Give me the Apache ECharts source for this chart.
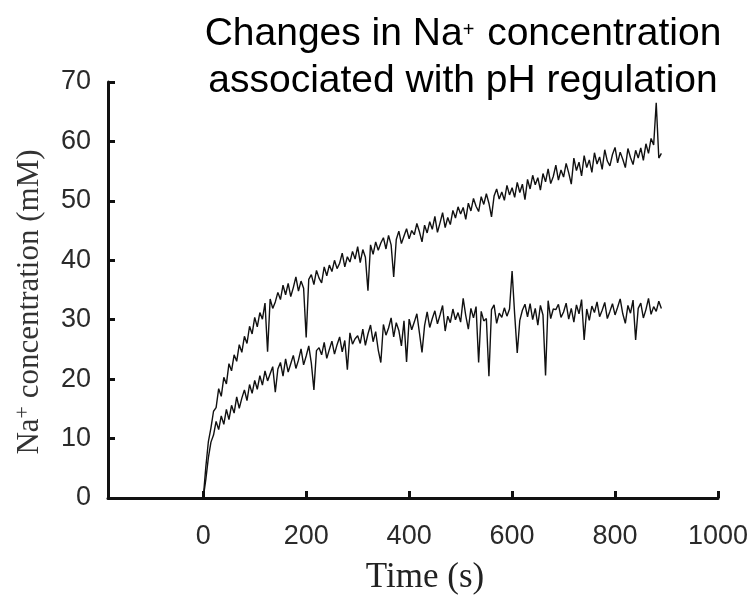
<!DOCTYPE html>
<html>
<head>
<meta charset="utf-8">
<script src="https://cdn.jsdelivr.net/npm/echarts/dist/echarts.min.js"></script>
<style>html,body{margin:0;padding:0;background:#fff;}#chart{width:754px;height:596px;}</style>
</head>
<body>
<div id="chart"></div>
<script>
// Sampling of the recorded traces (seconds)
const T_START = 0;
const T_STEP = 5;

// Upper trace (Na+ concentration, mM), t = 0..890 s every 5 s
const upperTrace = [
  0, 5.2, 9.5, 11.8, 14.6, 15.2, 18.4, 17.1, 20.3, 19.2,
  22.6, 21.4, 24.1, 23.0, 25.8, 24.5, 27.2, 26.0, 28.9, 27.6,
  30.4, 28.8, 31.2, 30.1, 32.8, 24.6, 33.5, 31.9, 33.0, 34.6,
  33.4, 35.8, 34.2, 36.1, 33.9, 35.4, 37.2, 34.8, 36.5, 35.3,
  27.0, 36.8, 37.6, 35.9, 38.3, 37.0, 36.2, 38.9, 37.4, 39.2,
  38.1, 40.0, 38.6, 39.5, 41.2, 38.9, 40.6, 39.7, 41.5, 40.2,
  42.3, 39.6, 41.8, 40.5, 34.9, 42.6, 41.0, 43.1, 41.7, 42.9,
  43.8, 41.9, 44.2, 42.6, 37.2, 43.5, 44.9, 42.8, 44.1, 45.3,
  43.6, 45.0, 44.3, 46.2, 44.8, 43.1, 45.9, 44.6, 46.5, 45.2,
  47.4, 44.7, 46.3, 48.0, 45.5, 47.2, 46.0, 48.4, 47.1, 49.0,
  47.8, 48.9, 46.9, 49.6, 48.3, 50.4, 49.1, 48.2, 50.7, 49.4,
  51.2, 49.6, 47.3, 50.8, 52.0, 50.3, 51.5, 50.1, 52.6, 51.0,
  52.2, 50.6, 53.1, 51.4, 52.8, 50.2, 53.6, 52.0, 54.3, 52.7,
  53.9, 51.8, 54.6, 53.2, 55.4, 52.9, 54.1, 56.0, 53.5, 55.2,
  54.0, 56.3, 54.7, 52.8, 57.2, 55.1, 56.5, 54.2, 57.6, 55.6,
  56.9, 54.8, 58.1, 56.2, 57.4, 55.3, 58.6, 56.7, 55.9, 57.8,
  59.0, 56.4, 58.2, 57.0, 55.6, 58.8, 57.3, 56.1, 58.5, 57.2,
  58.9, 56.8, 59.6, 58.0, 60.5, 59.4, 66.5, 57.2, 58.0
];

// Lower trace (Na+ concentration, mM), t = 0..890 s every 5 s
const lowerTrace = [
  0, 3.1, 6.8, 9.4, 10.6, 12.9, 11.5, 13.8, 12.4, 14.9,
  13.2, 15.6, 14.3, 17.0, 15.1, 16.8, 18.2, 16.4, 19.1, 17.6,
  19.8, 18.3, 20.6, 19.0, 21.4, 19.7, 20.9, 22.1, 17.8, 21.7,
  22.8, 20.5, 23.4, 21.2, 22.6, 24.0, 21.8, 23.2, 25.1, 22.4,
  23.9, 25.6, 22.7, 18.2, 24.8, 25.3, 24.1, 26.2, 23.5, 25.0,
  26.4, 24.2, 25.8, 27.1, 24.6, 26.5, 21.6, 27.8, 25.9, 26.8,
  27.3, 26.0, 28.4, 25.7, 27.6, 29.1, 26.3, 28.0, 24.9, 22.8,
  29.2, 27.4, 28.6, 30.3, 27.1, 29.5, 28.2, 25.6, 29.8, 22.9,
  30.1, 28.3, 29.6, 31.0, 27.8, 24.5, 29.0, 31.3, 28.7, 30.2,
  31.5, 29.3, 30.8, 32.4, 28.1, 30.6, 29.5, 31.8, 30.0, 31.2,
  29.6, 33.6, 30.7, 28.4, 31.9, 30.3, 32.2, 22.8, 31.4, 29.8,
  30.2, 20.5, 31.7, 32.5, 29.4, 31.1, 30.4, 32.0, 30.6, 31.8,
  38.2, 30.9, 24.4, 29.9, 31.6, 32.6, 30.5, 32.7, 30.0, 31.9,
  29.1, 32.4, 30.8, 20.6, 33.2, 30.2, 31.8, 31.7, 32.6, 30.4,
  31.3, 32.8, 30.1, 31.9, 29.6, 32.5, 31.0, 33.4, 26.6, 31.8,
  29.9, 32.3, 31.2, 33.0, 30.5, 31.6, 32.9, 30.2, 31.4, 32.7,
  30.8, 32.1, 33.5, 31.0, 29.4, 32.4, 31.1, 33.3, 26.6, 31.9,
  32.8, 30.3, 31.7, 33.6, 30.9, 32.2, 31.4, 33.1, 31.9
];

const xTickValues = [0, 200, 400, 600, 800, 1000];

function toPairs(arr) {
  return arr.map(function (v, i) { return [T_START + i * T_STEP, v]; });
}

const chart = echarts.init(document.getElementById('chart'), null, {renderer: 'canvas'});
const AX = '#111';
chart.setOption({
  backgroundColor: '#fff',
  animation: false,
  title: {
    text: 'Changes in Na{sup|+} concentration\nassociated with pH regulation',
    left: 458,
    top: 6,
    textAlign: 'center',
    textStyle: {
      fontFamily: 'Liberation Sans',
      fontWeight: 'normal',
      fontSize: 39,
      color: '#000',
      lineHeight: 47,
      rich: {
        sup: {fontFamily: 'Liberation Sans', fontSize: 20, color: '#000', lineHeight: 47, padding: [0, 2, 8, 0]}
      }
    }
  },
  grid: {left: 108, right: 36, top: 82, bottom: 98, containLabel: false, outerBoundsMode: 'none'},
  xAxis: {
    type: 'value',
    min: -185,
    max: 1000,
    name: 'Time (s)',
    nameLocation: 'middle',
    nameGap: 62,
    nameTextStyle: {fontFamily: 'Liberation Serif', fontSize: 35, color: '#222', padding: [0, 0, 0, 24]},
    axisLine: {show: true, onZero: false, lineStyle: {color: AX, width: 3}},
    axisTick: {show: true, inside: true, length: 7, customValues: xTickValues, lineStyle: {color: AX, width: 3}},
    axisLabel: {show: true, customValues: xTickValues, margin: 25, fontFamily: 'Liberation Sans', fontSize: 27, color: '#2a2a2a',
      formatter: function (v) { return String(v); }},
    splitLine: {show: false}
  },
  yAxis: {
    type: 'value',
    min: 0,
    max: 70,
    interval: 10,
    name: 'Na{sup|+} concentration (mM)',
    nameLocation: 'middle',
    nameGap: 60,
    nameRotate: 90,
    nameTextStyle: {
      fontFamily: 'Liberation Serif', fontSize: 31, color: '#333', padding: [0, 24, 0, 0],
      rich: {sup: {fontFamily: 'Liberation Serif', fontSize: 22, color: '#333', padding: [0, 0, 14, 0]}}
    },
    axisLine: {show: true, onZero: false, lineStyle: {color: AX, width: 3}},
    axisTick: {show: true, inside: true, length: 7, lineStyle: {color: AX, width: 3}},
    axisLabel: {show: true, margin: 17, fontFamily: 'Liberation Sans', fontSize: 27, color: '#2a2a2a'},
    splitLine: {show: false}
  },
  series: [
    {type: 'line', name: 'upper', data: toPairs(upperTrace), showSymbol: false, symbol: 'none',
     lineStyle: {color: '#111', width: 1.4}},
    {type: 'line', name: 'lower', data: toPairs(lowerTrace), showSymbol: false, symbol: 'none',
     lineStyle: {color: '#111', width: 1.4}}
  ]
});
</script>
</body>
</html>
